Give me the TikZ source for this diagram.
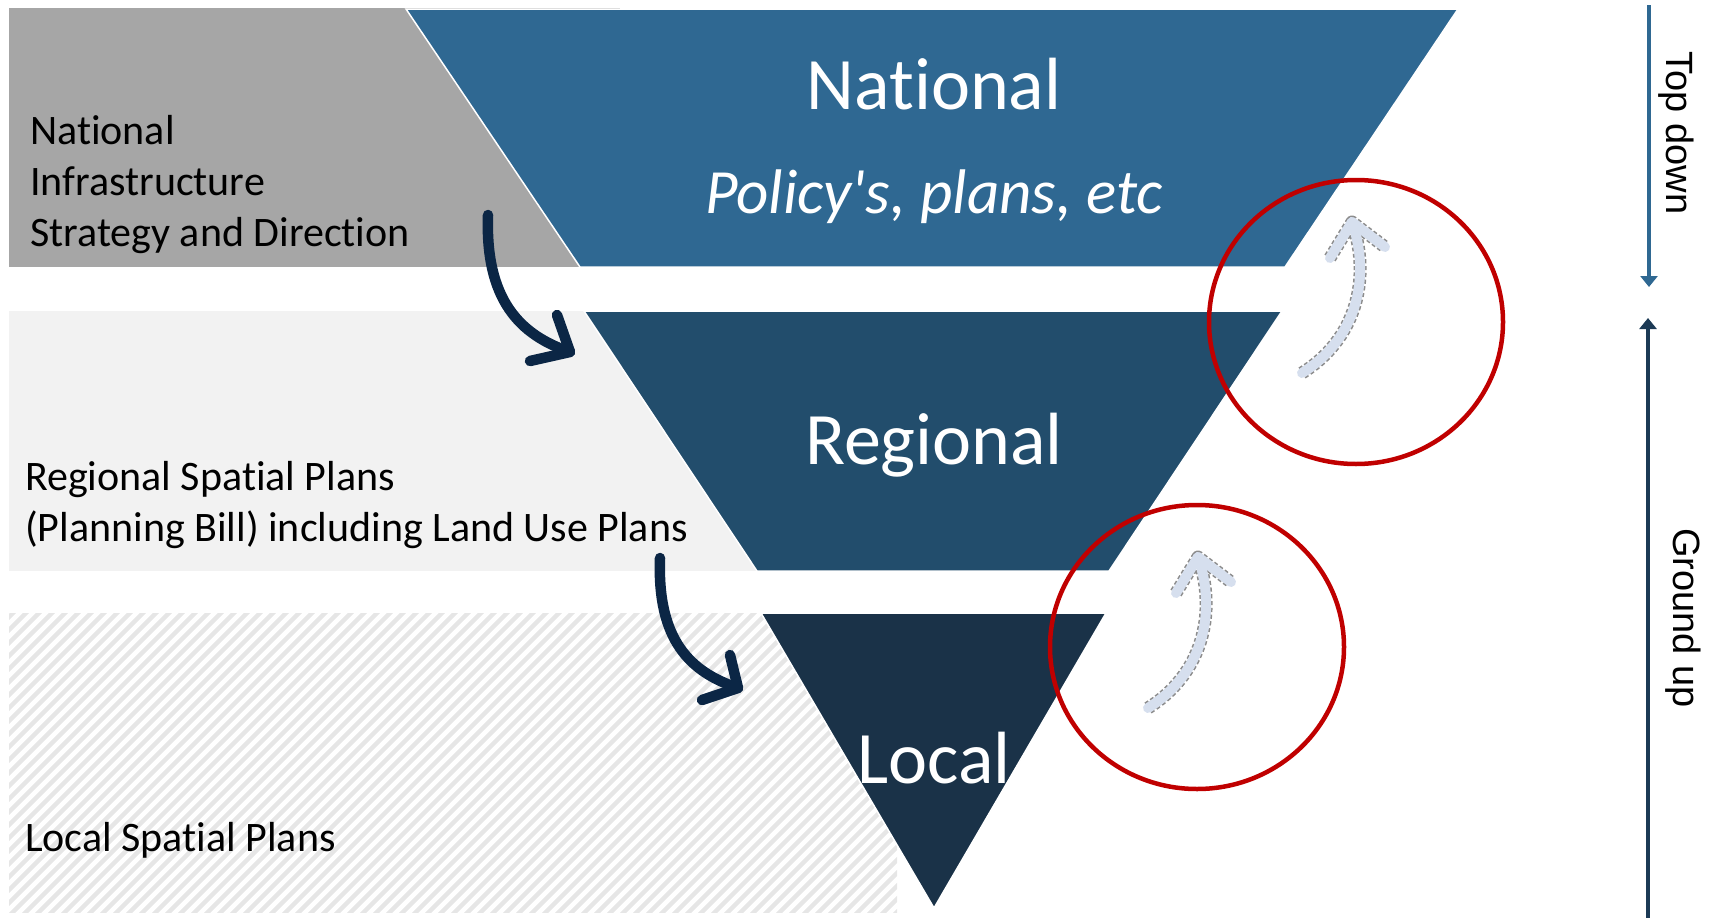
\documentclass[tikz,border=0pt]{standalone}
\usepackage{fontspec}
\setmainfont[Ligatures=NoCommon]{Carlito}
\newfontfamily\arialfont{Liberation Sans}
\usepackage{tikz}
\usetikzlibrary{arrows.meta}
\usepackage{xcolor}

\definecolor{natblue}{HTML}{2F6892}
\definecolor{regblue}{HTML}{224D6C}
\definecolor{locblue}{HTML}{1A3248}
\definecolor{flownavy}{HTML}{0B2645}
\definecolor{upnavy}{HTML}{1C3A55}
\definecolor{paleblue}{HTML}{D6DFEE}
\definecolor{ringred}{HTML}{C00000}
\definecolor{bandgray}{HTML}{A6A6A6}
\definecolor{bandlight}{HTML}{F2F2F2}
\definecolor{hatchgray}{HTML}{E6E6E6}

\begin{document}
\begin{tikzpicture}[x=1pt,y=-1pt,
  lefttext/.style={font=\fontsize{42}{51}\selectfont, text=black, align=left, inner sep=0, anchor=base west},
  bigtext/.style={font=\fontsize{74}{80}\selectfont, text=white, inner sep=0, anchor=base},
  tier/.style={draw=white, line width=1.5pt},
  flow/.style={draw=flownavy, line width=10.5pt, line cap=round, line join=round},
  upedge/.style={draw=gray!90, dash pattern=on 4pt off 2.5pt, line width=13pt, line join=round},
  upfill/.style={draw=paleblue, line width=10pt, line cap=round, line join=round},
  ring/.style={draw=ringred, line width=4.5pt},
  sidetext/.style={font=\arialfont\fontsize{38}{40}\selectfont, rotate=-90, inner sep=0}
]
\useasboundingbox (0,0) rectangle (1711,918);

% bands behind the tiers
\fill[bandgray] (9,8) rectangle (620,267);
\fill[bandlight] (9,311) rectangle (780,571);
\begin{scope}
\clip (9,613) rectangle (897,912);
\foreach \k in {0,...,96}
  \draw[hatchgray, line width=4.5pt] ({\k*13-330},930) -- ++(340,-340);
\end{scope}

% tiers
\fill[natblue, tier] (406,9) -- (1458,9) -- (1285,267) -- (580,267) -- cycle;
\fill[regblue, tier] (584,311) -- (1282,311) -- (1109,571) -- (757,571) -- cycle;
\fill[locblue, tier] (761,613) -- (1106,613) -- (934,908) -- cycle;

\node[bigtext] (natTitle) at (934,109) {National};
\node[bigtext, font=\fontsize{63}{70}\selectfont\itshape] (natSub) at (934,213) {Policy\textquotesingle s, plans, etc};
\node[bigtext] (regTitle) at (934,464) {Regional};
\node[bigtext] (locTitle) at (934,783) {Local};

% left hand descriptions
\node[lefttext] (natText) at (30,246) {National\\Infrastructure\\Strategy and Direction};
\node[lefttext] (regText) at (25,541) {Regional Spatial Plans\\(Planning Bill) including Land Use Plans};
\node[lefttext] (locText) at (25,851) {Local Spatial Plans};

% top down flow
\coordinate (f1s) at (488,215);
\coordinate (f1e) at (570,352);
\coordinate (f2s) at (660,558);
\coordinate (f2e) at (738,688);
\draw[flow] (f1s) .. controls (485,300) and (520,335) .. (f1e);
\draw[flow] (557,315) -- (f1e) -- (530,361);
\draw[flow] (f2s) .. controls (657,640) and (690,672) .. (f2e);
\draw[flow] (730,655) -- (f2e) -- (702,700);

% ground up feedback
\coordinate (r1) at (1356,322);
\coordinate (r2) at (1197,647);
\coordinate (u1s) at (1302,373);
\coordinate (u1e) at (1352,222);
\coordinate (u2s) at (1148,708);
\coordinate (u2e) at (1198,557);
\draw[upedge] (u1s) .. controls (1355,340) and (1372,280) .. (u1e);
\draw[upedge] (1330,258) -- (u1e) -- (1385,247);
\draw[upfill] (u1s) .. controls (1355,340) and (1372,280) .. (u1e);
\draw[upfill] (1330,258) -- (u1e) -- (1385,247);
\draw[upedge] (u2s) .. controls (1201,675) and (1218,615) .. (u2e);
\draw[upedge] (1176,593) -- (u2e) -- (1231,582);
\draw[upfill] (u2s) .. controls (1201,675) and (1218,615) .. (u2e);
\draw[upfill] (1176,593) -- (u2e) -- (1231,582);
\draw[ring] (r1) ellipse [x radius=147, y radius=142];
\draw[ring] (r2) ellipse [x radius=147, y radius=142];

% side arrows
\coordinate (tdTop) at (1649,5);
\coordinate (tdEnd) at (1649,287);
\coordinate (guBot) at (1648,918);
\coordinate (guEnd) at (1648,318);
\draw[natblue, line width=3.5pt, -{Triangle[length=11pt,width=17pt]}] (tdTop) -- (tdEnd);
\draw[upnavy, line width=3.5pt, -{Triangle[length=11pt,width=17pt]}] (guBot) -- (guEnd);
\node[sidetext] (tdText) at (1676,133) {Top down};
\node[sidetext] (guText) at (1683,618) {Ground up};
\end{tikzpicture}
\end{document}
